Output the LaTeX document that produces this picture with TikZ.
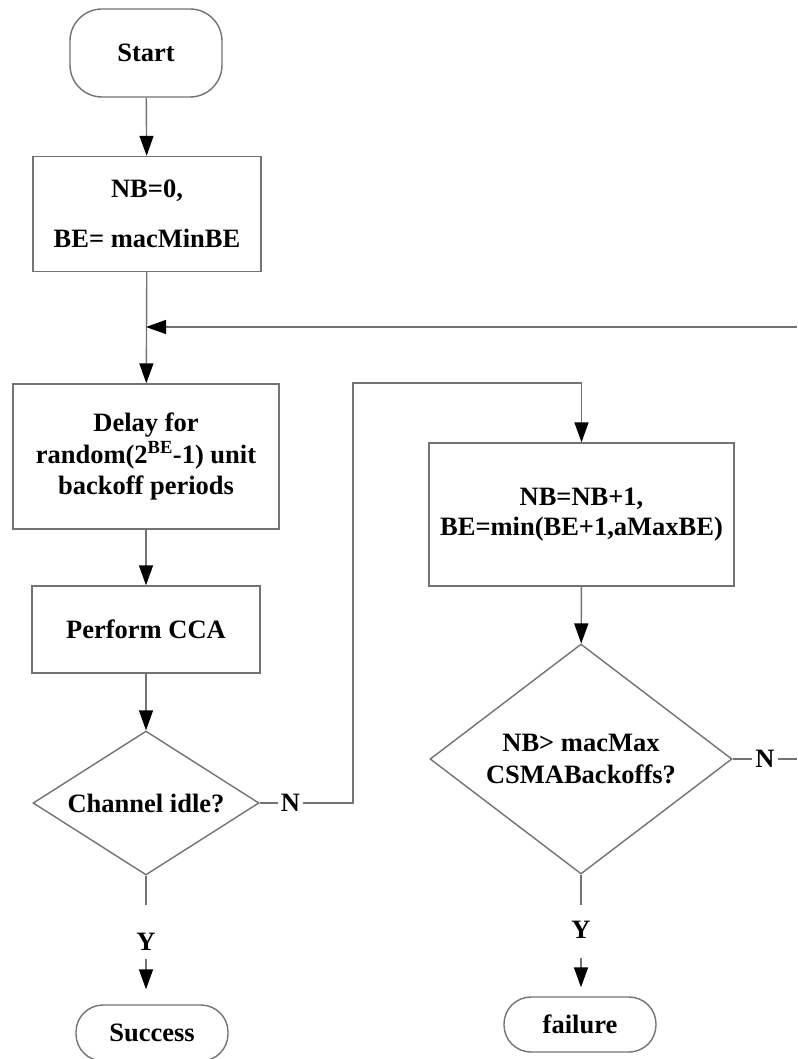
\documentclass[tikz,border=0pt]{standalone}
\usepackage{fontspec}
\setmainfont{Liberation Serif}
\usetikzlibrary{shapes.geometric,arrows.meta}
\begin{document}
\begin{tikzpicture}[x=1pt,y=-1pt,
  every node/.style={font=\fontsize{26.5}{31.5}\selectfont\bfseries},
  conn/.style={draw=gray!90!black,line width=1.4pt},
  arr/.style={conn,-{Triangle[length=20pt,width=14pt,color=black]}},
  procbox/.style={draw=gray!90!black,line width=1.4pt,rectangle,align=center,inner sep=0pt},
  termbox/.style={procbox,rounded corners=27pt},
  decision/.style={draw=gray!90!black,line width=1.4pt,diamond,align=center,inner sep=0pt,aspect=1.4},
  lab/.style={inner sep=3pt,outer sep=0pt}
]
\useasboundingbox (0,0) rectangle (797,1059);
\fill[white] (0,0) rectangle (797,1059);

\node[termbox,rounded corners=32pt,minimum width=152pt,minimum height=88pt] (start) at (146,53) {Start};
\node[procbox,minimum width=228pt,minimum height=115pt,font=\fontsize{26.5}{50}\selectfont\bfseries] (init) at (147,214) {NB=0,\\BE= macMinBE};
\node[procbox,minimum width=266pt,minimum height=145pt] (delay) at (146,456.5) {Delay for\\random(2\textsuperscript{BE}-1) unit\\backoff periods};
\node[procbox,minimum width=228pt,minimum height=87pt] (cca) at (146,629.5) {Perform CCA};
\node[decision,minimum width=226pt,minimum height=144pt] (d1) at (146,803) {Channel idle?};
\node[procbox,minimum width=305pt,minimum height=143pt,font=\fontsize{26.5}{30}\selectfont\bfseries] (upd) at (581.5,514.5) {NB=NB+1,\\BE=min(BE+1,aMaxBE)};
\node[decision,minimum width=302pt,minimum height=230pt,font=\fontsize{26.5}{32}\selectfont\bfseries] (d2) at (581,759) {NB> macMax\\CSMABackoffs?};
\node[termbox,minimum width=152pt,minimum height=56pt] (succ) at (152,1033) {Success};
\node[termbox,minimum width=152pt,minimum height=55pt] (fail) at (580,1024.5) {failure};

\node[lab] (n1) at (290.5,803) {N};
\node[lab] (n2) at (765,759) {N};
\node[lab] (y1) at (146,942) {Y};
\node[lab] (y2) at (581,930) {Y};

\coordinate (j) at (146,327);
\coordinate (r1) at (797,327);
\coordinate (c1) at (353,803);
\coordinate (c2) at (581.5,383);
\coordinate (r2) at (797,759);
\coordinate (ya) at (146,905);
\coordinate (yb) at (146,959);
\coordinate (za) at (581,905);
\coordinate (zb) at (581,958);

\draw[arr] (start) -- (init);
\draw[arr] (init) -- (delay);
\draw[arr] (r1) -- (j);
\draw[arr] (delay) -- (cca);
\draw[arr] (cca) -- (d1);
\draw[conn] (d1.east) -- (n1.west);
\draw[arr] (n1.east) -- (c1) |- (c2) -- (upd.north);
\draw[arr] (upd) -- (d2);
\draw[conn] (d2.east) -- (n2.west);
\draw[conn] (n2.east) -- (r2);
\draw[conn] (d1.south) -- (ya);
\draw[arr,shorten >=15pt] (yb) -- (yb |- succ.north);
\draw[conn] (d2.south) -- (za);
\draw[arr,shorten >=9pt] (zb) -- (zb |- fail.north);
\end{tikzpicture}
\end{document}
